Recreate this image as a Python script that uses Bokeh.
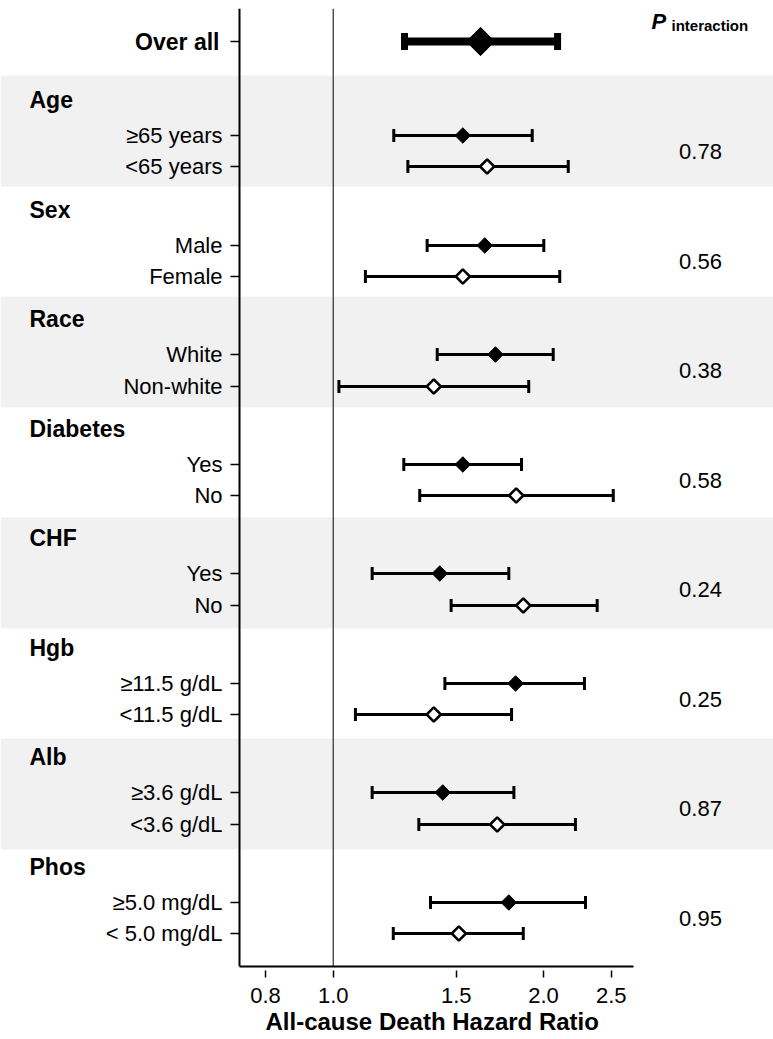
import math
from bokeh.plotting import figure
from bokeh.models import (Range1d, FixedTicker, LinearAxis, Whisker, TeeHead,
                          ColumnDataSource, Span, Title)
from bokeh.core.properties import value
from bokeh.embed import file_html
from bokeh.resources import INLINE

# ---------------- data ----------------
groups = ["Age", "Sex", "Race", "Diabetes", "CHF", "Hgb", "Alb", "Phos"]
subgroups = ["\u226565 years", "<65 years",
             "Male", "Female",
             "White", "Non-white",
             "Yes", "No",
             "Yes", "No",
             "\u226511.5 g/dL", "<11.5 g/dL",
             "\u22653.6 g/dL", "<3.6 g/dL",
             "\u22655.0 mg/dL", "< 5.0 mg/dL"]
hr = [1.533, 1.661, 1.648, 1.533, 1.707, 1.393, 1.533, 1.828,
      1.421, 1.871, 1.824, 1.393, 1.435, 1.717, 1.784, 1.513]
ci_low = [1.221, 1.279, 1.363, 1.112, 1.409, 1.019, 1.262, 1.330,
          1.137, 1.475, 1.445, 1.076, 1.137, 1.326, 1.378, 1.219]
ci_high = [1.927, 2.170, 2.002, 2.110, 2.065, 1.905, 1.860, 2.517,
           1.784, 2.387, 2.289, 1.800, 1.814, 2.222, 2.297, 1.871]
overall_label = "Over all"
overall_hr = [1.625]
overall_low = [1.265]
overall_high = [2.095]
p_interaction = ["0.78", "0.56", "0.38", "0.58", "0.24", "0.25", "0.87", "0.95"]
x_ticks = [0.8, 1.0, 1.5, 2.0, 2.5]
x_tick_labels = ["0.8", "1.0", "1.5", "2.0", "2.5"]
x_title = "All-cause Death Hazard Ratio"

# ---------------- layout ----------------
FONT = "Liberation Sans"
W, H = 773, 1039
PAGE_X0 = 0                  # frame left on page
PX_HR1 = 332.7               # page x of HR = 1
PX_PER_LN = 303.4            # pixels per unit of ln(HR)
FRAME_TOP, FRAME_BOTTOM = 8, 966


def hr_at(px):
    """data x (hazard ratio) found at a given page pixel column"""
    return math.exp((px - PX_HR1) / PX_PER_LN)


x_start, x_end = hr_at(PAGE_X0), hr_at(PAGE_X0 + W)
axis_lo, axis_hi = hr_at(239), hr_at(633)

ROW0, GROUP_PITCH, ITEM_PITCH = 135.2, 109.54, 31.3
overall_y = 41
item_y = []
for g in range(len(groups)):
    base = ROW0 + g * GROUP_PITCH
    item_y.append(float(round(base)))
    item_y.append(float(round(base + ITEM_PITCH)))
header_y = [item_y[2 * g] - 36 for g in range(len(groups))]
p_y = [(item_y[2 * g] + item_y[2 * g + 1]) / 2 for g in range(len(groups))]
band_top = [75 + 110.5 * g for g in range(0, len(groups), 2)]
band_bottom = [t + 111 for t in band_top]

p = figure(width=W, height=H, x_axis_type="log",
           x_range=Range1d(x_start, x_end),
           y_range=Range1d(FRAME_BOTTOM, FRAME_TOP),
           output_backend="svg", toolbar_location=None,
           min_border_left=0, min_border_right=0, min_border_top=FRAME_TOP,
           min_border_bottom=H - FRAME_BOTTOM,
           y_axis_location=None, outline_line_color=None,
           background_fill_color="white")
p.xgrid.visible = False
p.ygrid.visible = False

# shaded bands
p.quad(left=x_start, right=x_end, bottom=band_bottom, top=band_top,
       fill_color="#f1f1f1", line_color=None, level="image")

# reference line at HR = 1
p.add_layout(Span(location=1.0, dimension="height", line_color="black",
                  line_width=1))

# x axis
xa = p.xaxis[0]
xa.ticker = FixedTicker(ticks=x_ticks, minor_ticks=[])
xa.major_label_overrides = {t: l for t, l in zip(x_ticks, x_tick_labels)}
xa.bounds = (axis_lo, axis_hi)
xa.axis_line_width = 2
xa.axis_line_color = "black"
xa.major_tick_line_width = 1.5
xa.major_tick_line_color = "black"
xa.major_tick_in = -4
xa.major_tick_out = 11
xa.minor_tick_line_color = None
xa.major_label_standoff = 10
xa.major_label_text_font = FONT
xa.major_label_text_font_size = "22px"
xa.major_label_text_color = "black"

# x axis title (placed under the axis, left offset so it centres under the scale)
p.add_layout(Title(text=x_title, align="left", offset=265, standoff=0,
                   text_font=FONT, text_font_style="bold",
                   text_font_size="24px", text_color="black"), "below")

# y axis at fixed location
ticks_y = [float(overall_y)] + item_y
overrides = {float(overall_y): ""}
for yy, lab in zip(item_y, subgroups):
    overrides[yy] = lab
ya = LinearAxis(fixed_location=axis_lo,
                ticker=FixedTicker(ticks=ticks_y, minor_ticks=[]),
                major_label_overrides=overrides,
                axis_line_width=2, axis_line_color="black",
                major_tick_in=0, major_tick_out=9,
                major_tick_line_width=1.5, major_tick_line_color="black",
                minor_tick_line_color=None,
                major_label_standoff=8,
                major_label_text_font=FONT,
                major_label_text_font_size="22px",
                major_label_text_color="black")
p.add_layout(ya, "left")

# whiskers
src = ColumnDataSource(dict(y=item_y, lo=ci_low, hi=ci_high))
p.add_layout(Whisker(source=src, base="y", lower="lo", upper="hi",
                     dimension="width", line_width=3, line_color="black",
                     level="underlay",
                     upper_head=TeeHead(size=13, line_width=3, line_color="black"),
                     lower_head=TeeHead(size=13, line_width=3, line_color="black")))
osrc = ColumnDataSource(dict(y=[overall_y], lo=overall_low, hi=overall_high))
p.add_layout(Whisker(source=osrc, base="y", lower="lo", upper="hi",
                     dimension="width", line_width=8, line_color="black",
                     level="underlay",
                     upper_head=TeeHead(size=17, line_width=7, line_color="black"),
                     lower_head=TeeHead(size=17, line_width=7, line_color="black")))

# markers
p.scatter(x=hr[0::2], y=item_y[0::2], marker="square", angle=math.pi / 4,
          size=11, fill_color="black", line_color="black", line_width=1)
p.scatter(x=hr[1::2], y=item_y[1::2], marker="square", angle=math.pi / 4,
          size=10, fill_color="white", line_color="black", line_width=2.5)
p.scatter(x=overall_hr, y=[overall_y], marker="square", angle=math.pi / 4,
          size=20, fill_color="black", line_color="black", line_width=1)

# texts
p.text(x=[hr_at(219)], y=[overall_y], text=[overall_label],
       text_font=value(FONT), text_font_style="bold", text_font_size="23px",
       text_align="right", text_baseline="middle", text_color="black")
p.text(x=[hr_at(29)] * len(groups), y=header_y, text=groups,
       text_font=value(FONT), text_font_style="bold", text_font_size="23px",
       text_align="left", text_baseline="middle", text_color="black")
p.text(x=[hr_at(700)] * len(groups), y=p_y, text=p_interaction,
       text_font=value(FONT), text_font_size="22px",
       text_align="center", text_baseline="middle", text_color="black")
p.text(x=[hr_at(651)], y=[21], text=["P"],
       text_font=value(FONT), text_font_style="bold italic",
       text_font_size="22px", text_align="left", text_baseline="alphabetic",
       text_color="black")
p.text(x=[hr_at(671)], y=[25], text=["interaction"],
       text_font=value(FONT), text_font_style="bold",
       text_font_size="15px", text_align="left", text_baseline="alphabetic",
       text_color="black")

open("out.html", "w").write(file_html(p, INLINE))
